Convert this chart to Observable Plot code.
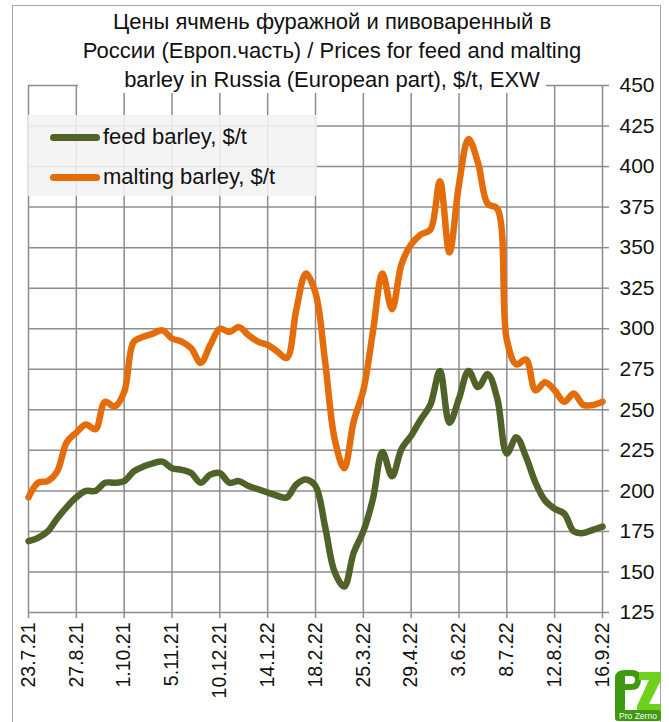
<!DOCTYPE html>
<html>
<head>
<meta charset="utf-8">
<script src="https://cdn.jsdelivr.net/npm/d3@7"></script>
<script src="https://cdn.jsdelivr.net/npm/@observablehq/plot@0.6"></script>
<style>
  html, body { margin: 0; padding: 0; background: #fff; }
  #wrap { position: relative; width: 669px; height: 722px; overflow: hidden; font-family: "Liberation Sans", Arial, sans-serif; }
  #border { position: absolute; left: 12px; top: 5px; width: 649px; height: 740px; border: 1.5px solid #a6a6a6; box-sizing: border-box; }
  #chart { position: absolute; left: 0; top: 0; }
  #titlebg { position: absolute; left: 78px; top: 7px; width: 468px; height: 86px; background: #fff; }
  #title { position: absolute; left: 82px; top: 7px; width: 500px; text-align: center;
           font-size: 22px; line-height: 29px; color: #111; white-space: nowrap; }
  #legend { position: absolute; left: 28px; top: 115px; width: 289px; height: 81px; background: rgba(242,242,242,0.88); }
  .lrow { position: absolute; left: 0; height: 30px; display: flex; align-items: center; font-size: 22px; color: #111; }
  .sw { width: 50px; height: 7px; border-radius: 4px; margin-left: 22px; margin-right: 3px; }
  #logo { position: absolute; left: 611px; top: 668px; }
</style>
</head>
<body>
<div id="wrap">
  <div id="border"></div>
  <div id="chart"></div>
  <div id="titlebg"></div>
  <div id="title">
    <div>Цены ячмень фуражной и пивоваренный в</div>
    <div>России (Европ.часть) / Prices for feed and malting</div>
    <div>barley in Russia (European part), $/t, EXW</div>
  </div>
  <div id="legend"></div>
  <svg id="logo" width="52" height="54" viewBox="0 0 52 54">
    <path d="M4 10 Q4 2 14 2 L22 2 Q30 2 30 12 Q30 22 20 22 L14 22 L14 44 L4 44 Z" fill="#3f9a12"/>
    <path d="M14 8 L20 8 Q24 8 24 12 Q24 16 20 16 L14 16 Z" fill="#ffffff"/>
    <path d="M28 4 L50 4 L50 12 L38 36 L50 36 L50 44 L26 44 L26 38 L38 12 L28 12 Z" fill="#6fd11c"/>
    <rect x="4" y="42" width="46" height="11" rx="3" fill="#3f9a12"/>
    <text x="27" y="51" text-anchor="middle" font-size="8.5" fill="#fff" font-family="Liberation Sans, Arial">Pro Zerno</text>
  </svg>
</div>
<script>
// ---- data ----
const startDate = "2021-07-23"; // weekly observations, Fridays
const feedBarley = [
  169, 171, 175, 183, 190, 196, 200, 200, 205, 205,
  206, 212, 215, 217, 218, 214, 213, 211, 205, 210,
  211, 205, 206, 203, 201, 199, 197, 196, 204, 207,
  203, 178, 150, 141, 162, 175, 195, 224, 209, 226,
  234, 244, 253, 274, 242, 257, 274, 264, 272, 257,
  223, 233, 221, 205, 194, 189, 186, 175, 174, 176,
  178
];
const maltingBarley = [
  196, 205, 206, 212, 230, 236, 241, 238, 255, 252,
  261, 292, 295, 297, 299, 294, 292, 288, 279, 290,
  300, 298, 301, 296, 292, 290, 286, 282, 312, 334,
  322, 280, 232, 214, 243, 262, 298, 334, 312, 340,
  352, 358, 361, 391, 347, 389, 417, 402, 377, 374,
  293, 278, 281, 262, 267, 262, 255, 260, 253, 253,
  255
];
const xTickLabels = ["23.7.21","27.8.21","1.10.21","5.11.21","10.12.21","14.1.22","18.2.22",
                     "25.3.22","29.4.22","3.6.22","8.7.22","12.8.22","16.9.22"];
const yTicks = [125,150,175,200,225,250,275,300,325,350,375,400,425,450];
const seriesNames = ["feed barley, $/t", "malting barley, $/t"];
const seriesColors = ["#4f6228", "#e46c0a"];

// ---- build ----
const start = new Date(startDate + "T00:00:00Z");
const rows = feedBarley.map((v, i) => ({date: d3.utcDay.offset(start, 7 * i), feed: v, malt: maltingBarley[i]}));
const parseLabel = s => { const [d, m, y] = s.split(".").map(Number); return new Date(Date.UTC(2000 + y, m - 1, d)); };
const xTicks = xTickLabels.map(parseLabel);
const labelOf = new Map(xTicks.map((d, i) => [+d, xTickLabels[i]]));
const endDate = rows[rows.length - 1].date;
const gridColor = "#8c8c8c";

const chart = Plot.plot({
  width: 669,
  height: 722,
  marginLeft: 28,
  marginRight: 67,
  marginTop: 85,
  marginBottom: 110,
  x: {type: "utc", domain: [start, endDate]},
  y: {domain: [125, 450]},
  style: {fontFamily: "'Liberation Sans', Arial, sans-serif", background: "transparent", color: "#111"},
  marks: [
    Plot.gridY(yTicks, {stroke: gridColor, strokeOpacity: 1, strokeWidth: 1.5}),
    Plot.gridX(xTicks, {stroke: gridColor, strokeOpacity: 1, strokeWidth: 1.5}),
    Plot.axisY(yTicks, {anchor: "right", tickSize: 6, tickPadding: 11, fontSize: 21, stroke: gridColor, strokeWidth: 1.5, fill: "#111", label: null}),
    Plot.axisX(xTicks, {anchor: "bottom", tickSize: 6, tickPadding: 4, tickRotate: -90, fontSize: 19.5, stroke: gridColor, strokeWidth: 1.5, fill: "#111", label: null,
                        tickFormat: d => labelOf.get(+d)}),
    Plot.line(rows, {x: "date", y: "feed", stroke: seriesColors[0], strokeWidth: 6.5, curve: "catmull-rom", strokeLinejoin: "round", strokeLinecap: "round"}),
    Plot.line(rows, {x: "date", y: "malt", stroke: seriesColors[1], strokeWidth: 6.5, curve: "catmull-rom", strokeLinejoin: "round", strokeLinecap: "round"})
  ]
});
document.getElementById("chart").appendChild(chart);

// legend
const legend = document.getElementById("legend");
seriesNames.forEach((name, i) => {
  const row = document.createElement("div");
  row.className = "lrow";
  row.style.top = (7 + i * 40) + "px";
  const sw = document.createElement("div");
  sw.className = "sw";
  sw.style.background = seriesColors[i];
  const t = document.createElement("span");
  t.textContent = name;
  row.appendChild(sw); row.appendChild(t);
  legend.appendChild(row);
});
</script>
</body>
</html>
